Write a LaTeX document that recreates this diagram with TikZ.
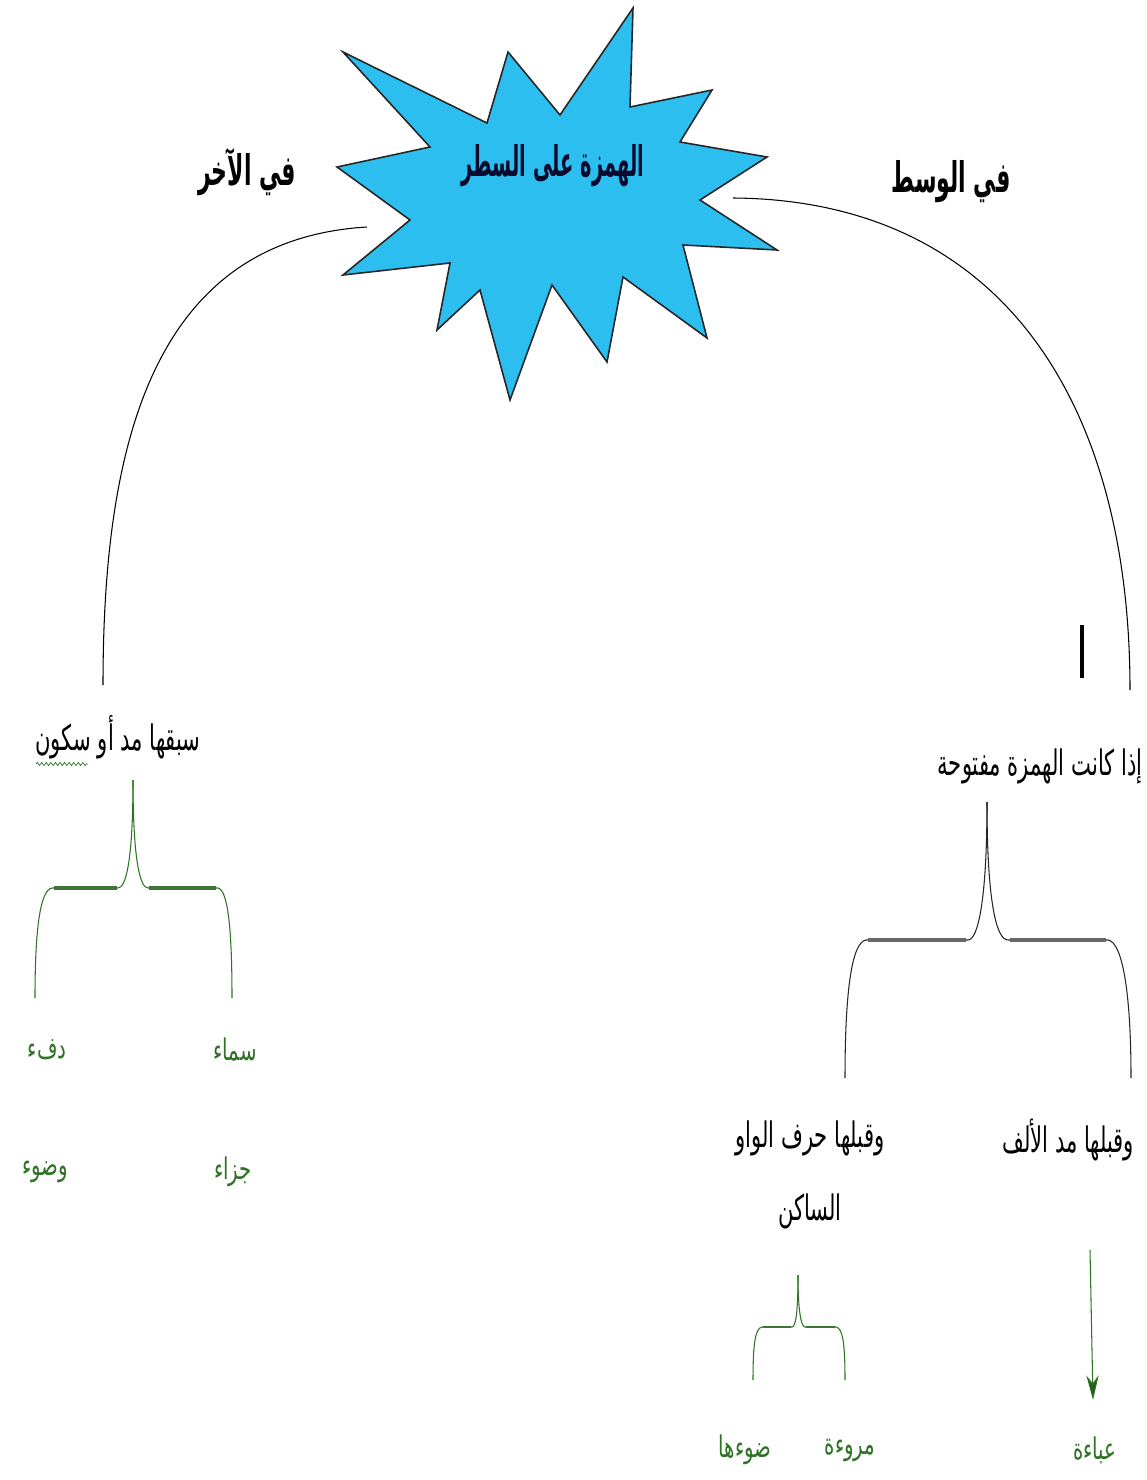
\documentclass[tikz,border=0pt]{standalone}
\usepackage{fontspec}
\TeXXeTstate=1
\newfontfamily\arT[Script=Arabic,FakeStretch=0.46]{DejaVu Sans}
\newfontfamily\arL[Script=Arabic,FakeStretch=0.52]{DejaVu Sans}
\newfontfamily\arB[Script=Arabic,FakeStretch=0.6]{DejaVu Sans}
\newfontfamily\arE[Script=Arabic,FakeStretch=0.66]{DejaVu Sans}
\usetikzlibrary{arrows.meta,decorations.pathmorphing}
\definecolor{starblue}{RGB}{45,190,240}
\definecolor{navy}{RGB}{10,10,45}
\definecolor{lgreen}{RGB}{45,115,35}
\definecolor{bgray}{RGB}{105,105,105}
\begin{document}
\begin{tikzpicture}[x=0.02cm,y=-0.02cm,
  ttl/.style={font=\arT\bfseries\fontsize{24}{28}\selectfont, inner sep=0pt},
  lbl/.style={font=\arL\bfseries\fontsize{24}{28}\selectfont, inner sep=0pt},
  body/.style={font=\arB\fontsize{20}{42}\selectfont, align=center, inner sep=0pt},
  ex/.style={font=\arE\fontsize{17}{20}\selectfont, text=lgreen, inner sep=0pt},
  conn/.style={draw=black, line width=0.6pt},
  gline/.style={draw=lgreen, line width=0.6pt},
  kline/.style={draw=black!85, line width=0.6pt},
  gbar/.style={draw=lgreen!80!gray, line width=2pt},
  kbar/.style={draw=bgray, line width=2.2pt}]
\useasboundingbox (0,0) rectangle (1146,1480);
% star
\draw[fill=starblue, draw=black!85, line width=0.9pt]
 (633,8) -- (630,107) -- (712,90) -- (680,142) -- (767,157) -- (700,200) --
 (777,250) -- (683,245) -- (707,338) -- (623,277) -- (607,362) -- (552,285) --
 (510,400) -- (480,290) -- (437,330) -- (450,263) -- (343,275) -- (410,220) --
 (337,167) -- (430,147) -- (343,52) -- (487,123) -- (508,52) -- (560,115) -- cycle;
\node[ttl, text=navy] (title) at (553,166) {\beginR الهمزة على السطر\endR};
\coordinate (sL) at (367,227);
\coordinate (sR) at (733,198);
% branch labels
\node[lbl] (akhir) at (247,172) {\beginR في الآخر\endR};
\node[lbl] (wasat) at (951,182) {\beginR في الوسط\endR};
% left branch
\node[body] (sabaq) at (118,737) {\beginR سبقها مد أو سكون\endR};
\coordinate (aL) at (103,685);
\draw[conn] (sL) .. controls (150,240) and (103,450) .. (aL);
\draw[lgreen, decorate, decoration={zigzag, amplitude=0.9pt, segment length=2.6pt}, line width=0.4pt] (36,764) -- (88,764);
% right branch
\node[body] (iza) at (1040,766) {\beginR إذا كانت الهمزة مفتوحة\endR};
\coordinate (aR) at (1130,690);
\draw[conn] (sR) .. controls (1000,200) and (1130,400) .. (aR);
\draw[line width=2pt] (1082,625) -- (1082,678);
% left green brace
\coordinate (lb) at (133,780);
\draw[gline] (lb) .. controls (133,860) and (126,888) .. (118,888) -- (52,888)
  .. controls (40,890) and (35,930) .. (35,998);
\draw[gline] (lb) .. controls (133,860) and (140,888) .. (148,888) -- (218,888)
  .. controls (228,890) and (232,930) .. (232,998);
\draw[gbar] (54,888) -- (117,888);
\draw[gbar] (149,888) -- (216,888);
\node[ex] (samaa) at (235,1050) {\beginR سماء\endR};
\node[ex] (difa) at (47,1050) {\beginR دفء\endR};
\node[ex] (jazaa) at (233,1172) {\beginR جزاء\endR};
\node[ex] (wudu) at (45,1172) {\beginR وضوء\endR};
% right black brace
\coordinate (rb) at (987,802);
\draw[kline] (rb) .. controls (987,900) and (978,940) .. (968,940) -- (866,940)
  .. controls (852,942) and (845,990) .. (845,1078);
\draw[kline] (rb) .. controls (987,900) and (996,940) .. (1008,940) -- (1108,940)
  .. controls (1122,942) and (1131,990) .. (1131,1078);
\draw[kbar] (868,940) -- (966,940);
\draw[kbar] (1010,940) -- (1106,940);
\node[body] (alif) at (1068,1140) {\beginR وقبلها مد الألف\endR};
\node[body] (waw) at (810,1175) {\beginR وقبلها حرف الواو\endR\\\beginR الساكن\endR};
% small green brace
\coordinate (sb) at (798,1275);
\draw[gline] (sb) .. controls (798,1310) and (796,1327) .. (792,1327) -- (762,1327)
  .. controls (755,1328) and (753,1345) .. (753,1380);
\draw[gline] (sb) .. controls (798,1310) and (801,1327) .. (805,1327) -- (836,1327)
  .. controls (843,1328) and (845,1345) .. (845,1380);
\draw[gbar, line width=1.4pt] (763,1327) -- (791,1327);
\draw[gbar, line width=1.4pt] (806,1327) -- (835,1327);
\node[ex] (marua) at (850,1450) {\beginR مروءة\endR};
\node[ex] (dawuha) at (745,1450) {\beginR ضوءها\endR};
% arrow
\node[ex] (abaa) at (1095,1450) {\beginR عباءة\endR};
\coordinate (arS) at (1090,1250);
\draw[draw=lgreen, line width=0.6pt, -{Stealth[length=14pt, width=7pt, fill=lgreen!80!black]}] (arS) -- (1093,1400);
\end{tikzpicture}
\end{document}
